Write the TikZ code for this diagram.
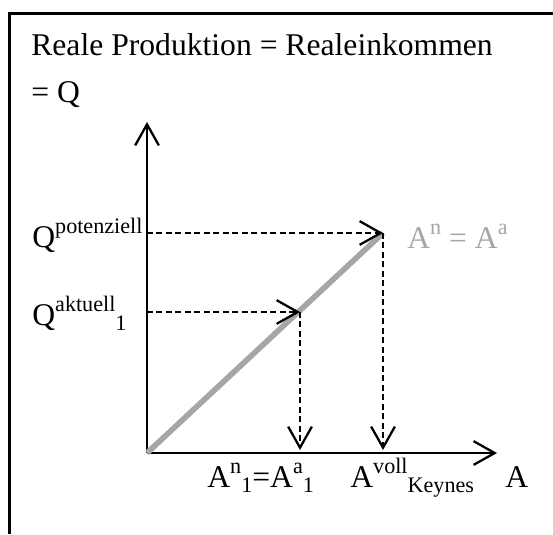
\documentclass[tikz,border=0pt]{standalone}
\usepackage{fontspec}
\setmainfont{Liberation Serif}
\usetikzlibrary{arrows.meta}
\definecolor{geradegrau}{RGB}{166,166,166}
\newcommand\haupt{\fontsize{18}{21}\selectfont}
\newcommand\hoch[1]{\raisebox{7.6pt}{\fontsize{12.6}{14}\selectfont #1}}
\newcommand\tief[1]{\raisebox{-3pt}{\fontsize{12.6}{14}\selectfont #1}}
\begin{document}
\begin{tikzpicture}[
  x=0.02cm, y=-0.02cm,
  every node/.style={inner sep=0pt, anchor=base west, font=\haupt},
  achse/.style={-{Straight Barb[length=12pt,width=13.5pt]}, line width=1.3pt},
  hilfslinie/.style={achse, dash pattern=on 3.4pt off 2pt},
  gerade/.style={line width=3.2pt, color=geradegrau}
]
\useasboundingbox (0,0) rectangle (553,534);
\draw[line width=1.7pt] (553,13.5) -- (9.5,13.5) -- (9.5,534);
% Titel
\node (titel) at (31,55) {Reale Produktion = Realeinkommen};
\node (titelq) at (31,102) {= Q};
% Punkte
\coordinate (O) at (147,453);
\coordinate (yende) at (147,122);
\coordinate (xende) at (497,453);
\coordinate (ppot) at (383,233);
\coordinate (pakt) at (300,312);
\coordinate (qpot) at (147,233);
\coordinate (qakt) at (147,312);
\coordinate (apot) at (383,450);
\coordinate (aakt) at (300,450);
% Achsen
\draw[achse] (O) -- (yende);
\draw[achse] (O) -- (xende);
\draw[gerade] (O) -- (ppot);
\draw[hilfslinie] (qpot) -- (ppot);
\draw[hilfslinie] (qakt) -- (pakt);
\draw[hilfslinie] (ppot) -- (apot);
\draw[hilfslinie] (pakt) -- (aakt);
% Beschriftung
\node (lqpot) at (32,247) {Q\hoch{potenziell}};
\node (lqakt) at (32,325) {Q\hoch{aktuell}\tief{1}};
\node[text=geradegrau] (lgerade) at (407,248) {A\hoch{n} = A\hoch{a}};
\node (lakt) at (207,487) {A\hoch{n}\tief{1}=A\hoch{a}\tief{1}};
\node (lvoll) at (350,487) {A\hoch{voll}\tief{Keynes}};
\node (lachse) at (505,487) {A};
\end{tikzpicture}
\end{document}
